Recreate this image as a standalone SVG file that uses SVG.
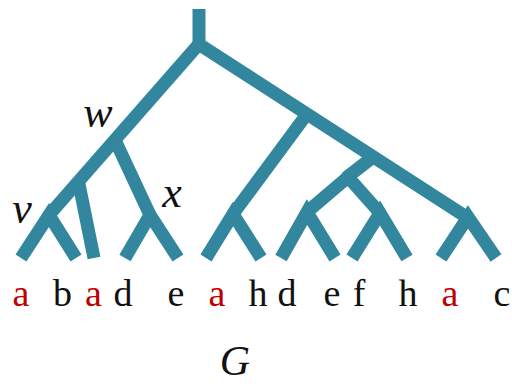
<svg xmlns="http://www.w3.org/2000/svg" width="512" height="384" viewBox="0 0 512 384">
<style>
.e{fill:none;stroke:#32879f;stroke-width:13;stroke-linecap:butt;stroke-linejoin:miter}
text{font-family:'Liberation Serif','DejaVu Serif',serif}
.lf{font-size:38px;text-anchor:middle;fill:#111}
.r{fill:#c00000}
.lb{font-size:44px;font-style:italic;fill:#111;text-anchor:middle}
</style>
<rect width="512" height="384" fill="#fff"/>
<g id="edges">
<line class="e" x1="199" y1="9" x2="199" y2="46"/>
<line class="e" x1="199" y1="44" x2="49" y2="215"/>
<line class="e" x1="197" y1="43" x2="468" y2="218"/>
<line class="e" x1="79" y1="184" x2="94" y2="258"/>
<line class="e" x1="115" y1="140" x2="150" y2="215"/>
<line class="e" x1="307" y1="114" x2="233" y2="214"/>
<line class="e" x1="373" y1="157" x2="346" y2="178"/>
</g>
<g id="node-v"><polyline class="e" points="21,258 49,215 76,258"/></g>
<g id="node-x"><polyline class="e" points="125,258 150,215 178,258"/></g>
<g id="node-h1"><polyline class="e" points="206,258 233,214 261,258"/></g>
<g id="node-m"><polyline class="e" points="307,212 348,177 380,213"/></g>
<g id="node-p"><polyline class="e" points="281,258 307,212 335,258"/></g>
<g id="node-q"><polyline class="e" points="352,258 380,213 407,258"/></g>
<g id="node-r3"><polyline class="e" points="441,258 468,217 496,258"/></g>
<g id="labels">
<text class="lb" x="98" y="127">w</text>
<text class="lb" x="22" y="223">v</text>
<text class="lb" x="172" y="207">x</text>
<text class="lb" x="235" y="375" style="font-size:42px">G</text>
</g>
<g id="leaves">
<text class="lf r" x="21" y="306">a</text>
<text class="lf" x="62.5" y="306">b</text>
<text class="lf r" x="93.5" y="306">a</text>
<text class="lf" x="123" y="306">d</text>
<text class="lf" x="176" y="306">e</text>
<text class="lf r" x="217" y="306">a</text>
<text class="lf" x="258" y="306">h</text>
<text class="lf" x="287" y="306">d</text>
<text class="lf" x="332" y="306">e</text>
<text class="lf" x="359" y="306">f</text>
<text class="lf" x="408" y="306">h</text>
<text class="lf r" x="450" y="306">a</text>
<text class="lf" x="502" y="306">c</text>
</g>
</svg>
